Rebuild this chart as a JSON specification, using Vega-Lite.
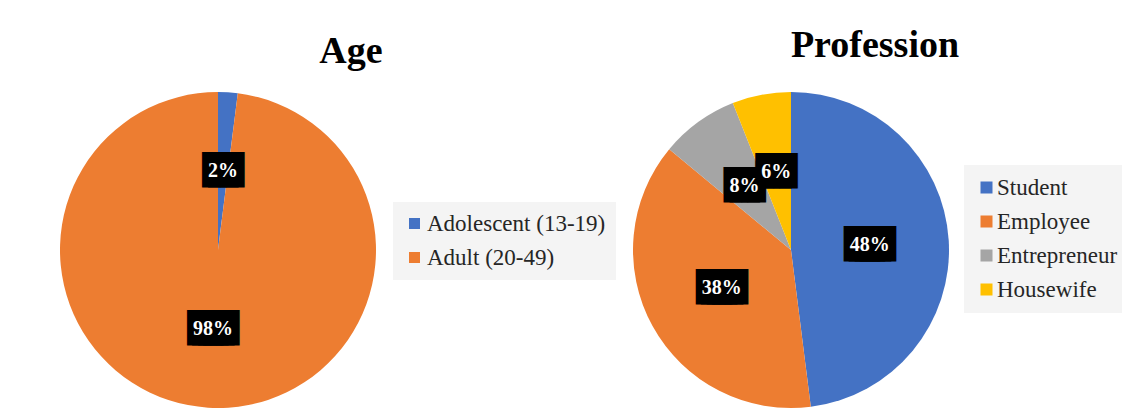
{
  "$schema": "https://vega.github.io/schema/vega-lite/v6.json",
  "background": "white",
  "padding": {"left": 53, "top": 27, "right": 0, "bottom": 0},
  "spacing": 243,
  "bounds": "flush",
  "config": {
    "view": {"stroke": null},
    "title": {"font": "Liberation Serif", "fontWeight": "bold", "fontSize": 38, "color": "#000000", "anchor": "middle", "baseline": "alphabetic"}
  },
  "resolve": {"scale": {"color": "independent", "theta": "independent"}, "legend": {"color": "independent"}},
  "hconcat": [
    {
      "width": 330,
      "height": 330,
      "title": {"text": "Age", "dx": 133, "offset": 14},
      "data": {"values": [
        {"category": "Adolescent (13-19)", "value": 2, "label": "2%"},
        {"category": "Adult (20-49)", "value": 98, "label": "98%"}
      ]},
      "encoding": {
        "theta": {"field": "value", "type": "quantitative", "stack": true},
        "order": {"field": "value", "type": "quantitative", "sort": "ascending"},
        "color": {
          "field": "category", "type": "nominal", "sort": null,
          "scale": {"domain": ["Adolescent (13-19)", "Adult (20-49)"], "range": ["#4472C4", "#ED7D31"]},
          "legend": {"orient": "none", "legendX": 340, "legendY": 117, "title": null, "fillColor": "#f4f4f4", "padding": 10, "labelFont": "Liberation Serif", "labelFontSize": 23, "labelColor": "#262626", "labelLimit": 400, "symbolType": "square", "symbolSize": 121, "rowPadding": 10, "labelOffset": 1, "symbolStrokeWidth": 0}
        }
      },
      "layer": [
        {"mark": {"type": "arc", "outerRadius": 158}},
        {"mark": {"type": "text", "radius": 79, "font": "DejaVu Sans Mono", "fontSize": 30, "baseline": "middle", "align": "center", "dx": -3}, "encoding": {"text": {"value": "██"}, "color": {"value": "#000000"}}},
        {"mark": {"type": "text", "radius": 79, "font": "DejaVu Sans Mono", "fontSize": 30, "baseline": "middle", "align": "center", "dx": 3}, "encoding": {"text": {"value": "██"}, "color": {"value": "#000000"}}},
        {"mark": {"type": "text", "radius": 79, "font": "DejaVu Sans Mono", "fontSize": 30, "baseline": "middle", "align": "center", "dx": -8}, "encoding": {"text": {"condition": {"test": "length(datum.label) > 2", "value": "██"}, "value": ""}, "color": {"value": "#000000"}}},
        {"mark": {"type": "text", "radius": 79, "font": "DejaVu Sans Mono", "fontSize": 30, "baseline": "middle", "align": "center", "dx": 8}, "encoding": {"text": {"condition": {"test": "length(datum.label) > 2", "value": "██"}, "value": ""}, "color": {"value": "#000000"}}},
        {"mark": {"type": "text", "radius": 79, "font": "Liberation Serif", "fontWeight": "bold", "fontSize": 20, "baseline": "middle", "align": "center"}, "encoding": {"text": {"field": "label", "type": "nominal"}, "color": {"value": "#ffffff"}}}
      ]
    },
    {
      "width": 330,
      "height": 330,
      "title": {"text": "Profession", "dx": 84, "offset": 20},
      "data": {"values": [
        {"category": "Student", "value": 48, "label": "48%"},
        {"category": "Employee", "value": 38, "label": "38%"},
        {"category": "Entrepreneur", "value": 8, "label": "8%"},
        {"category": "Housewife", "value": 6, "label": "6%"}
      ]},
      "encoding": {
        "theta": {"field": "value", "type": "quantitative", "stack": true},
        "order": {"field": "value", "type": "quantitative", "sort": "descending"},
        "color": {
          "field": "category", "type": "nominal", "sort": null,
          "scale": {"domain": ["Student", "Employee", "Entrepreneur", "Housewife"], "range": ["#4472C4", "#ED7D31", "#A5A5A5", "#FFC000"]},
          "legend": {"orient": "none", "legendX": 338, "legendY": 80, "title": null, "fillColor": "#f4f4f4", "padding": 11, "labelFont": "Liberation Serif", "labelFontSize": 23, "labelColor": "#262626", "labelLimit": 400, "symbolType": "square", "symbolSize": 144, "rowPadding": 10, "labelOffset": -1, "symbolStrokeWidth": 0}
        }
      },
      "layer": [
        {"mark": {"type": "arc", "outerRadius": 158}},
        {"mark": {"type": "text", "radius": 79, "font": "DejaVu Sans Mono", "fontSize": 30, "baseline": "middle", "align": "center", "dx": -3}, "encoding": {"text": {"value": "██"}, "color": {"value": "#000000"}}},
        {"mark": {"type": "text", "radius": 79, "font": "DejaVu Sans Mono", "fontSize": 30, "baseline": "middle", "align": "center", "dx": 3}, "encoding": {"text": {"value": "██"}, "color": {"value": "#000000"}}},
        {"mark": {"type": "text", "radius": 79, "font": "DejaVu Sans Mono", "fontSize": 30, "baseline": "middle", "align": "center", "dx": -8}, "encoding": {"text": {"condition": {"test": "length(datum.label) > 2", "value": "██"}, "value": ""}, "color": {"value": "#000000"}}},
        {"mark": {"type": "text", "radius": 79, "font": "DejaVu Sans Mono", "fontSize": 30, "baseline": "middle", "align": "center", "dx": 8}, "encoding": {"text": {"condition": {"test": "length(datum.label) > 2", "value": "██"}, "value": ""}, "color": {"value": "#000000"}}},
        {"mark": {"type": "text", "radius": 79, "font": "Liberation Serif", "fontWeight": "bold", "fontSize": 20, "baseline": "middle", "align": "center"}, "encoding": {"text": {"field": "label", "type": "nominal"}, "color": {"value": "#ffffff"}}}
      ]
    }
  ]
}
